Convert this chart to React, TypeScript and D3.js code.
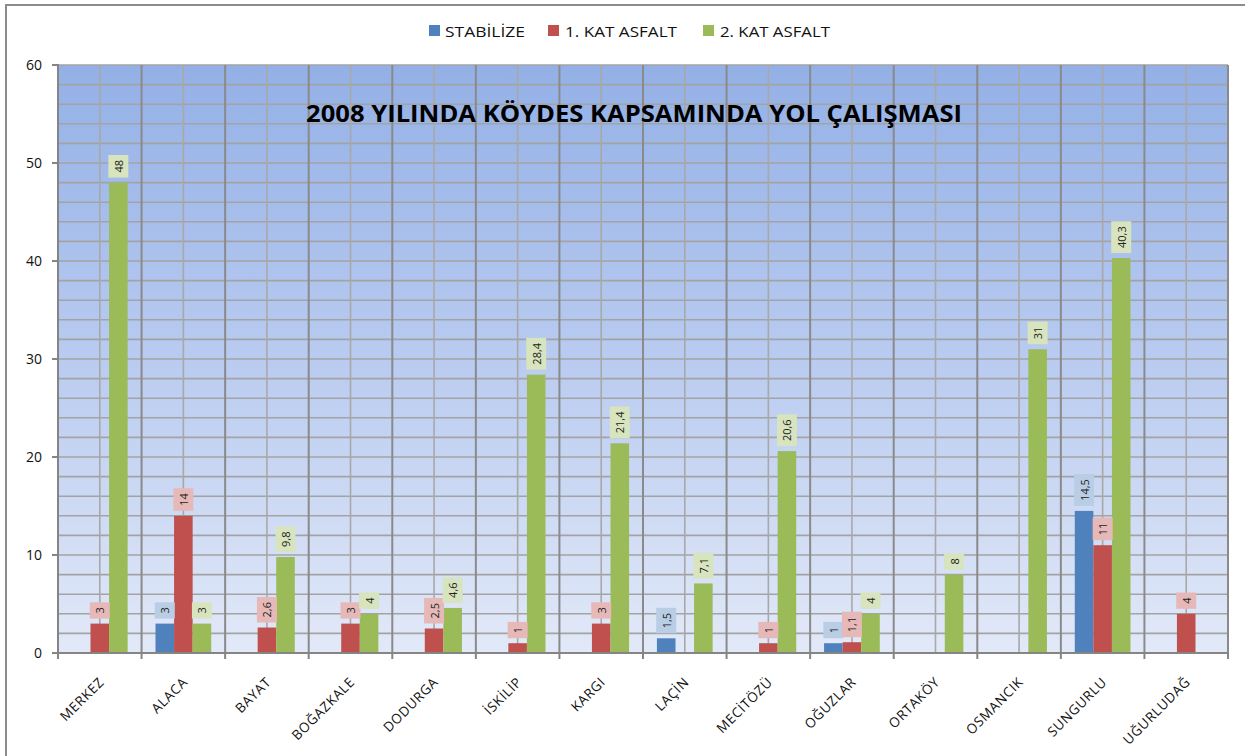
import React from "react";
import * as d3 from "d3";

const categories = ["MERKEZ", "ALACA", "BAYAT", "BOĞAZKALE", "DODURGA", "İSKİLİP", "KARGI", "LAÇİN", "MECİTÖZÜ", "OĞUZLAR", "ORTAKÖY", "OSMANCIK", "SUNGURLU", "UĞURLUDAĞ"];
const stabilize: (number | null)[] = [null, 3, null, null, null, null, null, 1.5, null, 1, null, null, 14.5, null];
const katAsfalt1: (number | null)[] = [3, 14, 2.6, 3, 2.5, 1, 3, null, 1, 1.1, null, null, 11, 4];
const katAsfalt2: (number | null)[] = [48, 3, 9.8, 4, 4.6, 28.4, 21.4, 7.1, 20.6, 4, 8, 31, 40.3, null];
const seriesNames = ["STABİLİZE", "1. KAT ASFALT", "2. KAT ASFALT"];
const yTicks = [0, 10, 20, 30, 40, 50, 60];
const title = "2008 YILINDA KÖYDES KAPSAMINDA YOL ÇALIŞMASI";

const seriesColors = ["#4f81bd", "#c0504d", "#9bbb59"];
const labelBg = ["#b9cde5", "#e6b9b8", "#d7e4bd"];

const W = 1245, H = 756;
const left = 58, right = 1228, top = 65, bottom = 653;
const FONT = "'Open Sans', 'Noto Sans', sans-serif";

function textLen(s: string) {
  let w = 0;
  for (const c of s) w += c === "," ? 2.9 : 6.3;
  return w;
}

export default function App() {
  const series = [stabilize, katAsfalt1, katAsfalt2];
  const x = d3.scaleBand<string>().domain(categories).range([left, right]).paddingInner(0).paddingOuter(0);
  const y = d3.scaleLinear().domain([0, 60]).range([bottom, top]);
  const bw = x.bandwidth();
  const barW = bw / 4.5;
  const x1 = d3.scaleBand<number>().domain([0, 1, 2]).range([0, barW * 3]);
  const grid = d3.range(0, 61, 2);

  const vLines: { x: number; major: boolean }[] = [];
  categories.forEach((c, i) => {
    const x0 = x(c)!;
    if (i > 0) vLines.push({ x: x0, major: true });
    vLines.push({ x: x0 + bw / 2, major: false });
  });

  const legendItems = [
    { sx: 429, tx: 445, tl: 80 },
    { sx: 548, tx: 565, tl: 112 },
    { sx: 703, tx: 720, tl: 110 },
  ];

  return (
    <svg width={W} height={H} style={{ position: "absolute", left: 0, top: 0, background: "#fff" }} fontFamily={FONT}>
      <defs>
        <linearGradient id="bg" x1="0" y1="0" x2="0" y2="1">
          <stop offset="0%" stopColor="#93b0e6" />
          <stop offset="50%" stopColor="#b9cbf0" />
          <stop offset="100%" stopColor="#e2e9f8" />
        </linearGradient>
      </defs>
      <rect x={6} y={5} width={1260} height={770} fill="#fff" stroke="#8c8c8c" strokeWidth={2} />

      {/* legend */}
      {seriesNames.map((n, i) => (
        <g key={n}>
          <rect x={legendItems[i].sx} y={25} width={11} height={11} fill={seriesColors[i]} />
          <text x={legendItems[i].tx} y={36.5} fontSize={15} fill="#111" textLength={legendItems[i].tl} lengthAdjust="spacingAndGlyphs">{n}</text>
        </g>
      ))}

      {/* plot background */}
      <rect x={left} y={top} width={right - left} height={bottom - top} fill="url(#bg)" />

      {/* horizontal grid */}
      {grid.map((g) => (
        <line key={"h" + g} x1={left} x2={right} y1={y(g)} y2={y(g)} stroke="#a3a3a3" strokeWidth={1.6} />
      ))}
      {/* vertical grid */}
      {vLines.map((v, i) => (
        <line key={"v" + i} x1={v.x} x2={v.x} y1={top} y2={bottom} stroke={v.major ? "#8a8a8a" : "#a8a8a8"} strokeWidth={v.major ? 2 : 1.6} />
      ))}
      <line x1={right} x2={right} y1={top} y2={bottom} stroke="#8a8a8a" strokeWidth={2} />

      {/* title */}
      <text x={634} y={122} textAnchor="middle" fontSize={23.5} fontWeight="bold" fill="#000" textLength={656} lengthAdjust="spacingAndGlyphs">{title}</text>

      {/* bars */}
      {series.map((s, si) =>
        s.map((v, ci) => {
          if (v == null) return null;
          const bx = x(categories[ci])! + barW * 0.75 + x1(si)!;
          return <rect key={`b${si}-${ci}`} x={bx} y={y(v)} width={barW} height={bottom - y(v)} fill={seriesColors[si]} />;
        })
      )}

      {/* data labels */}
      {series.map((s, si) =>
        s.map((v, ci) => {
          if (v == null) return null;
          const label = String(v).replace(".", ",");
          const cx = x(categories[ci])! + barW * 0.75 + x1(si)! + barW / 2;
          const h = textLen(label) + 10;
          const by = y(v) - 5;
          const cy = by - h / 2;
          return (
            <g key={`l${si}-${ci}`}>
              <rect x={cx - 10} y={by - h} width={20} height={h} fill={labelBg[si]} />
              <text x={cx} y={cy} transform={`rotate(-90 ${cx} ${cy})`} textAnchor="middle" dominantBaseline="central" fontSize={11} fill="#222">{label}</text>
            </g>
          );
        })
      )}

      {/* axes */}
      <line x1={left} x2={left} y1={top - 1} y2={bottom + 1} stroke="#858585" strokeWidth={2} />
      <line x1={left - 6} x2={right} y1={bottom} y2={bottom} stroke="#858585" strokeWidth={2} />
      {yTicks.map((t) => (
        <g key={"yt" + t}>
          <line x1={left - 6} x2={left} y1={y(t)} y2={y(t)} stroke="#858585" strokeWidth={2} />
          <text x={42} y={y(t)} dy="0.36em" textAnchor="end" fontSize={14} fill="#111">{t}</text>
        </g>
      ))}
      {d3.range(0, categories.length + 1).map((i) => {
        const xx = left + i * bw;
        return <line key={"xt" + i} x1={xx} x2={xx} y1={bottom} y2={bottom + 6} stroke="#858585" strokeWidth={2} />;
      })}
      {categories.map((c) => {
        const ax = x(c)! + bw / 2 + 5;
        const ay = 683;
        return (
          <text key={"xl" + c} x={ax} y={ay} transform={`rotate(-45 ${ax} ${ay})`} textAnchor="end" fontSize={13.5} letterSpacing={0.6} fill="#111">{c}</text>
        );
      })}
    </svg>
  );
}
